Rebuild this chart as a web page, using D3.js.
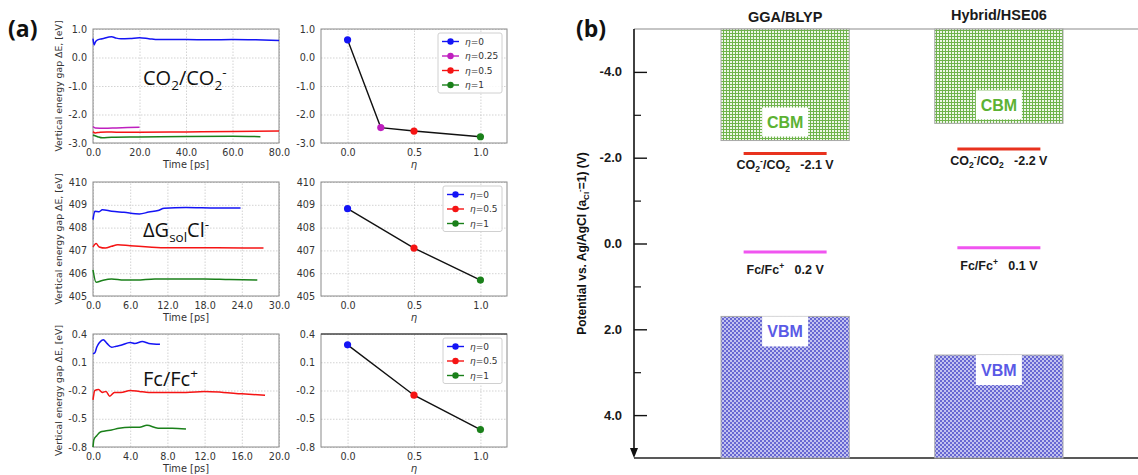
<!DOCTYPE html>
<html><head><meta charset="utf-8">
<script src="https://cdn.jsdelivr.net/npm/d3@7"></script>
<style>body{margin:0;background:#fff}svg{display:block}</style>
</head><body><svg id="fig" width="1138" height="475"></svg>
<script>
// ---------- (a) running averages of the vertical energy gap [time (ps), eV] ----------
const co2Eta0   = [[0,0.66],[0.5,0.44],[1,0.54],[2,0.62],[4,0.66],[8,0.73],[10,0.68],[12,0.66],[16,0.67],[20,0.69],[24,0.66],[28,0.63],[40,0.63],[50,0.62],[60,0.63],[70,0.62],[80,0.60]];
const co2Eta025 = [[0,-2.42],[1,-2.47],[5,-2.48],[10,-2.47],[15,-2.46],[20,-2.45]];
const co2Eta05  = [[0,-2.60],[1,-2.65],[3,-2.62],[6,-2.61],[10,-2.62],[20,-2.62],[40,-2.61],[60,-2.60],[80,-2.58]];
const co2Eta1   = [[0,-2.72],[2,-2.78],[4,-2.82],[8,-2.80],[20,-2.79],[40,-2.77],[60,-2.76],[72,-2.78]];

const gsolEta0  = [[0,408.35],[0.3,408.72],[1,408.70],[1.5,408.78],[3,408.72],[5,408.67],[7.5,408.60],[9,408.68],[10.5,408.75],[11.5,408.85],[15,408.88],[20,408.86],[23.8,408.86]];
const gsolEta05 = [[0,407.15],[0.5,407.30],[1,407.15],[2,407.10],[3,407.18],[4,407.25],[6,407.20],[9,407.15],[12,407.12],[20,407.12],[27.5,407.10]];
const gsolEta1  = [[0,406.15],[0.5,405.60],[1.5,405.68],[3,405.75],[5,405.70],[7,405.70],[10,405.75],[18,405.75],[22,405.72],[26.5,405.70]];

const fcEta0  = [[0,0.19],[0.2,0.20],[0.4,0.26],[0.7,0.31],[1.1,0.34],[1.5,0.30],[2,0.26],[2.5,0.27],[3,0.28],[4,0.31],[4.5,0.30],[5.3,0.32],[6,0.30],[7.2,0.29]];
const fcEta05 = [[0,-0.30],[0.2,-0.20],[0.6,-0.19],[1,-0.22],[1.4,-0.21],[1.8,-0.26],[2.3,-0.22],[3,-0.22],[4,-0.20],[5,-0.21],[6,-0.22],[8,-0.22],[10,-0.22],[12,-0.21],[14,-0.22],[16,-0.235],[18.5,-0.25]];
const fcEta1  = [[0,-0.80],[0.1,-0.72],[0.4,-0.68],[0.8,-0.64],[1.3,-0.63],[2,-0.62],[2.8,-0.60],[4,-0.59],[5,-0.59],[5.8,-0.57],[7,-0.60],[8.5,-0.60],[10,-0.61]];

// converged gaps versus the coupling parameter eta
const co2Etas  = [0, 0.25, 0.5, 1];
const co2Avg   = [0.62, -2.46, -2.58, -2.78];
const gsolEtas = [0, 0.5, 1];
const gsolAvg  = [408.83, 407.1, 405.7];
const fcEtas   = [0, 0.5, 1];
const fcAvg    = [0.285, -0.25, -0.615];

// tick labels
const co2TimeTicks  = [0, 20, 40, 60, 80];
const co2GapTicks   = [1, 0, -1, -2, -3];
const gsolTimeTicks = [0, 6, 12, 18, 24, 30];
const gsolGapTicks  = [405, 406, 407, 408, 409, 410];
const fcTimeTicks   = [0, 4, 8, 12, 16, 20];
const fcGapTicks    = [0.4, 0.1, -0.2, -0.5, -0.8];
const etaTicks      = [0, 0.5, 1];

// ---------- (b) band edges and redox levels vs. Ag/AgCl ----------
const methods    = ["GGA/BLYP", "Hybrid/HSE06"];
const cbmLevels  = [-2.4, -2.8];
const vbmLevels  = [1.7, 2.6];
const co2Redox   = [-2.1, -2.2];
const fcRedox    = [0.2, 0.1];
const potMajorTicks = [-4, -2, 0, 2, 4];
const potMinorTicks = [-3, -1, 1, 3];

const etaColor = {"0": "#1414f5", "0.25": "#bf1fbf", "0.5": "#f51414", "1": "#1a801a"};

const svg = d3.select("#fig");
const W = +svg.attr("width"), H = +svg.attr("height");
const fmt1 = v => d3.format(".1f")(v).replace("\u2212", "-");
const fmtInt = v => d3.format("d")(v).replace("\u2212", "-");
const MPL = "DejaVu Sans";

function drawPanel(p) {
  const x = d3.scaleLinear().domain(p.xDomain).range([p.left, p.right]);
  const y = d3.scaleLinear().domain(p.yDomain).range([p.bottom, p.top]);
  const g = svg.append("g");
  const gx = g.append("g").attr("transform", `translate(0,${p.bottom})`)
    .call(d3.axisBottom(x).tickValues(p.xTicks).tickSize(-(p.bottom - p.top)).tickPadding(6).tickFormat(p.xFmt));
  const gy = g.append("g").attr("transform", `translate(${p.left},0)`)
    .call(d3.axisLeft(y).tickValues(p.yTicks).tickSize(-(p.right - p.left)).tickPadding(6).tickFormat(p.yFmt));
  [gx, gy].forEach(a => {
    a.select(".domain").remove();
    a.selectAll("line").attr("stroke", "#c8c8c8").attr("stroke-width", 0.8).attr("stroke-dasharray", "1.5,1.5");
    a.selectAll("text").attr("font-family", MPL).attr("font-size", 9.6).attr("fill", "#333");
  });
  g.append("rect").attr("x", p.left).attr("y", p.top).attr("width", p.right - p.left).attr("height", p.bottom - p.top)
    .attr("fill", "none").attr("stroke", "#8a8a8a").attr("stroke-width", 1);
  if (p.darkTop) g.append("line").attr("x1", p.left).attr("x2", p.right).attr("y1", p.top).attr("y2", p.top)
    .attr("stroke", "#222").attr("stroke-width", 1.2);
  // axis title sits just under the tick labels, kept inside the page
  g.append("text").attr("x", (p.left + p.right) / 2).attr("y", Math.min(p.bottom + 25, H - 3)).attr("text-anchor", "middle")
    .attr("font-family", MPL).attr("font-size", p.xItalic ? 10 : 9.8).attr("font-style", p.xItalic ? "italic" : "normal")
    .attr("fill", "#333").text(p.xLabel);
  if (p.yLabel) {
    g.append("text").attr("transform", `translate(${p.left - 31},${(p.top + p.bottom) / 2}) rotate(-90)`)
      .attr("text-anchor", "middle").attr("font-family", MPL).attr("font-size", 9.3).attr("fill", "#333").text(p.yLabel);
  }
  return {x, y, g};
}

function drawSeries(panel, series) {
  const line = d3.line().x(d => panel.x(d[0])).y(d => panel.y(d[1])).curve(d3.curveMonotoneX);
  series.forEach(s => panel.g.append("path").datum(s.data).attr("d", line)
    .attr("fill", "none").attr("stroke", etaColor[s.eta]).attr("stroke-width", 1.5));
}

function drawEta(panel, etas, vals) {
  const pts = etas.map((e, i) => [e, vals[i]]);
  panel.g.append("path").datum(pts).attr("d", d3.line().x(d => panel.x(d[0])).y(d => panel.y(d[1])))
    .attr("fill", "none").attr("stroke", "#111").attr("stroke-width", 1.4);
  panel.g.selectAll("circle.pt").data(pts).join("circle").attr("class", "pt")
    .attr("cx", d => panel.x(d[0])).attr("cy", d => panel.y(d[1])).attr("r", 3.6)
    .attr("fill", d => etaColor[String(d[0])]);
  // legend
  const boxW = etas.some(e => String(e).length > 3) ? 64 : 59;
  const bx = panel.x.range()[1] - 5 - boxW;
  const by = panel.y.range()[1] + 4;
  const rowH = 14.5;
  const lg = panel.g.append("g");
  lg.append("rect").attr("x", bx).attr("y", by).attr("width", boxW).attr("height", etas.length * rowH + 2)
    .attr("rx", 2).attr("fill", "#fff").attr("fill-opacity", 0.85).attr("stroke", "#d0d0d0");
  etas.forEach((e, i) => {
    const cy = by + 8.5 + i * rowH;
    lg.append("line").attr("x1", bx + 4).attr("x2", bx + 21).attr("y1", cy).attr("y2", cy)
      .attr("stroke", etaColor[String(e)]).attr("stroke-width", 1.4);
    lg.append("circle").attr("cx", bx + 12.5).attr("cy", cy).attr("r", 3.2).attr("fill", etaColor[String(e)]);
    const t = lg.append("text").attr("x", bx + 27).attr("y", cy + 3.4).attr("font-family", MPL).attr("font-size", 9).attr("fill", "#333");
    t.append("tspan").attr("font-style", "italic").text("\u03b7");
    t.append("tspan").text("=" + e);
  });
}

const leftX = [93, 279], rightX = [321, 507];
const rows = [[29, 143], [182, 296], [334, 447]];
const yLab = "Vertical energy gap \u0394E, [eV]";

// row 1: CO2/CO2-
const p1 = drawPanel({left: leftX[0], right: leftX[1], top: rows[0][0], bottom: rows[0][1], xDomain: [0, 80], yDomain: [-3, 1],
  xTicks: co2TimeTicks, yTicks: co2GapTicks, xFmt: fmt1, yFmt: fmt1, xLabel: "Time [ps]", yLabel: yLab});
drawSeries(p1, [{eta: "0", data: co2Eta0}, {eta: "0.25", data: co2Eta025}, {eta: "0.5", data: co2Eta05}, {eta: "1", data: co2Eta1}]);
const q1 = drawPanel({left: rightX[0], right: rightX[1], top: rows[0][0], bottom: rows[0][1], xDomain: [-0.2, 1.2], yDomain: [-3, 1],
  xTicks: etaTicks, yTicks: co2GapTicks, xFmt: fmt1, yFmt: fmt1, xLabel: "\u03b7", xItalic: true});
drawEta(q1, co2Etas, co2Avg);

// row 2: solvation free energy of Cl-
const p2 = drawPanel({left: leftX[0], right: leftX[1], top: rows[1][0], bottom: rows[1][1], xDomain: [0, 30], yDomain: [405, 410],
  xTicks: gsolTimeTicks, yTicks: gsolGapTicks, xFmt: fmt1, yFmt: fmtInt, xLabel: "Time [ps]", yLabel: yLab});
drawSeries(p2, [{eta: "0", data: gsolEta0}, {eta: "0.5", data: gsolEta05}, {eta: "1", data: gsolEta1}]);
const q2 = drawPanel({left: rightX[0], right: rightX[1], top: rows[1][0], bottom: rows[1][1], xDomain: [-0.2, 1.2], yDomain: [405, 410],
  xTicks: etaTicks, yTicks: gsolGapTicks, xFmt: fmt1, yFmt: fmtInt, xLabel: "\u03b7", xItalic: true});
drawEta(q2, gsolEtas, gsolAvg);

// row 3: Fc/Fc+
const p3 = drawPanel({left: leftX[0], right: leftX[1], top: rows[2][0], bottom: rows[2][1], xDomain: [0, 20], yDomain: [-0.8, 0.4],
  xTicks: fcTimeTicks, yTicks: fcGapTicks, xFmt: fmt1, yFmt: fmt1, xLabel: "Time [ps]", yLabel: yLab});
drawSeries(p3, [{eta: "0", data: fcEta0}, {eta: "0.5", data: fcEta05}, {eta: "1", data: fcEta1}]);
const q3 = drawPanel({left: rightX[0], right: rightX[1], top: rows[2][0], bottom: rows[2][1], xDomain: [-0.2, 1.2], yDomain: [-0.8, 0.4],
  xTicks: etaTicks, yTicks: fcGapTicks, xFmt: fmt1, yFmt: fmt1, xLabel: "\u03b7", xItalic: true, darkTop: true});
drawEta(q3, fcEtas, fcAvg);

// in-plot titles
const TITLE_FONT = "'Open Sans', Lato, sans-serif";
function bigLabel(x, y, parts) {
  const t = svg.append("text").attr("x", x).attr("y", y).attr("font-family", TITLE_FONT)
    .attr("font-size", 20).attr("fill", "#111");
  parts.forEach(([s, dy, fs]) => t.append("tspan").attr("dy", dy).attr("font-size", fs || 20).text(s));
}
bigLabel(143, 85, [["CO", 0], ["2", 5, 13.5], ["/CO", -5], ["2", 5, 13.5], ["-", -13, 13.5]]);
bigLabel(143, 237, [["\u0394G", 0], ["sol", 5, 13.5], ["Cl", -5], ["-", -8, 13.5]]);
bigLabel(143, 386, [["Fc/Fc", 0], ["+", -8, 13.5]]);

svg.append("text").attr("x", 8).attr("y", 37).attr("font-family", TITLE_FONT).attr("font-weight", "bold")
  .attr("font-size", 23).attr("fill", "#111").text("(a)");
svg.append("text").attr("x", 576).attr("y", 37).attr("font-family", TITLE_FONT).attr("font-weight", "bold")
  .attr("font-size", 23).attr("fill", "#111").text("(b)");

// ---------- (b) ----------
const HEL = "'Liberation Sans', Arial, sans-serif";
const axisX = 634;
const yPot = d3.scaleLinear().domain([-5, 5]).range([29, 458]);
const xM = d3.scaleBand().domain(methods).range([721, 1063]).paddingInner(0.4).paddingOuter(0);

const defs = svg.append("defs");
const gp = defs.append("pattern").attr("id", "gridGreen").attr("patternUnits", "userSpaceOnUse").attr("width", 3).attr("height", 3);
gp.append("rect").attr("width", 3).attr("height", 3).attr("fill", "#eef7e8");
gp.append("path").attr("d", "M0,0.5H3M0.5,0V3").attr("stroke", "#6fb34c").attr("stroke-width", 1);
const bp = defs.append("pattern").attr("id", "checkBlue").attr("patternUnits", "userSpaceOnUse").attr("width", 4).attr("height", 4);
bp.append("rect").attr("width", 4).attr("height", 4).attr("fill", "#c2c2f0");
bp.append("rect").attr("width", 2).attr("height", 2).attr("fill", "#6767d2");
bp.append("rect").attr("x", 2).attr("y", 2).attr("width", 2).attr("height", 2).attr("fill", "#6767d2");

const gb = svg.append("g");
// frame lines
gb.append("line").attr("x1", axisX).attr("x2", W).attr("y1", yPot(-5)).attr("y2", yPot(-5)).attr("stroke", "#8c8c8c").attr("stroke-width", 1.2);
gb.append("line").attr("x1", axisX).attr("x2", W).attr("y1", yPot(5)).attr("y2", yPot(5)).attr("stroke", "#222").attr("stroke-width", 1.4);

// conduction band (from top of window down to CBM)
gb.selectAll("rect.cbm").data(methods).join("rect").attr("class", "cbm")
  .attr("x", d => xM(d)).attr("width", xM.bandwidth())
  .attr("y", yPot(-5)).attr("height", (d, i) => yPot(cbmLevels[i]) - yPot(-5))
  .attr("fill", "url(#gridGreen)").attr("stroke", "#a8a8a8").attr("stroke-width", 1);
// valence band (from VBM down to bottom of window)
gb.selectAll("rect.vbm").data(methods).join("rect").attr("class", "vbm")
  .attr("x", d => xM(d)).attr("width", xM.bandwidth())
  .attr("y", (d, i) => yPot(vbmLevels[i])).attr("height", (d, i) => yPot(5) - yPot(vbmLevels[i]))
  .attr("fill", "url(#checkBlue)").attr("stroke", "#a8a8a8").attr("stroke-width", 1);

// band labels and method titles
methods.forEach((m, i) => {
  const cx = xM(m) + xM.bandwidth() / 2;
  const cb = yPot(cbmLevels[i]);
  gb.append("rect").attr("x", cx - 23).attr("y", cb - 33).attr("width", 46).attr("height", 29).attr("fill", "#fff");
  gb.append("text").attr("x", cx).attr("y", cb - 12.5).attr("text-anchor", "middle").attr("font-family", HEL)
    .attr("font-weight", "bold").attr("font-size", 16).attr("fill", "#5cb233").text("CBM");
  const vb = yPot(vbmLevels[i]);
  gb.append("rect").attr("x", cx - 23).attr("y", vb).attr("width", 46).attr("height", 30).attr("fill", "#fff");
  gb.append("text").attr("x", cx).attr("y", vb + 21).attr("text-anchor", "middle").attr("font-family", HEL)
    .attr("font-weight", "bold").attr("font-size", 16).attr("fill", "#5a5ae6").text("VBM");
  gb.append("text").attr("x", cx).attr("y", i === 0 ? 22 : 20).attr("text-anchor", "middle").attr("font-family", HEL)
    .attr("font-weight", "bold").attr("font-size", 14.5).attr("fill", "#1a1a1a").text(m);
});

// redox levels
const redoxHalf = 41.5;
methods.forEach((m, i) => {
  const cx = xM(m) + xM.bandwidth() / 2;
  const yc = yPot(co2Redox[i]);
  gb.append("line").attr("x1", cx - redoxHalf).attr("x2", cx + redoxHalf).attr("y1", yc).attr("y2", yc)
    .attr("stroke", "#e8321e").attr("stroke-width", 3);
  const t1 = gb.append("text").attr("x", cx).attr("y", yc + 16).attr("text-anchor", "middle").attr("font-family", HEL)
    .attr("font-weight", "bold").attr("font-size", 12.5).attr("fill", "#1a1a1a");
  t1.append("tspan").text("CO");
  t1.append("tspan").attr("dy", 3).attr("font-size", 8.5).text("2");
  t1.append("tspan").attr("dy", -8).attr("font-size", 8.5).text("-");
  t1.append("tspan").attr("dy", 5).text("/CO");
  t1.append("tspan").attr("dy", 3).attr("font-size", 8.5).text("2");
  t1.append("tspan").attr("dy", -3).text("\u00a0\u00a0\u00a0" + fmt1(co2Redox[i]) + " V");

  const yf = yPot(fcRedox[i]);
  gb.append("line").attr("x1", cx - redoxHalf).attr("x2", cx + redoxHalf).attr("y1", yf).attr("y2", yf)
    .attr("stroke", "#f055f0").attr("stroke-width", 3);
  const t2 = gb.append("text").attr("x", cx).attr("y", yf + 22).attr("text-anchor", "middle").attr("font-family", HEL)
    .attr("font-weight", "bold").attr("font-size", 12.5).attr("fill", "#1a1a1a");
  t2.append("tspan").text("Fc/Fc");
  t2.append("tspan").attr("dy", -5).attr("font-size", 8.5).text("+");
  t2.append("tspan").attr("dy", 5).text("\u00a0\u00a0\u00a0" + fmt1(fcRedox[i]) + " V");
});

// potential axis (increasing downward, with arrow)
const ga = gb.append("g").attr("transform", `translate(${axisX},0)`);
ga.call(d3.axisRight(yPot).tickValues(potMajorTicks).tickSize(13).tickFormat(""));
ga.select(".domain").remove();
ga.selectAll(".tick line").attr("stroke", "#111").attr("stroke-width", 1.4);
const gm = gb.append("g").attr("transform", `translate(${axisX},0)`);
gm.call(d3.axisRight(yPot).tickValues(potMinorTicks).tickSize(7).tickFormat(""));
gm.select(".domain").remove();
gm.selectAll(".tick line").attr("stroke", "#111").attr("stroke-width", 1.2);
gb.append("line").attr("x1", axisX).attr("x2", axisX).attr("y1", yPot(-5)).attr("y2", yPot(5) - 6)
  .attr("stroke", "#111").attr("stroke-width", 1.6);
gb.append("path").attr("d", `M${axisX - 4},${yPot(5) - 10}L${axisX + 4},${yPot(5) - 10}L${axisX},${yPot(5)}Z`).attr("fill", "#111");
gb.selectAll("text.pot").data(potMajorTicks).join("text").attr("class", "pot")
  .attr("x", axisX - 12).attr("y", d => yPot(d) + 4.5).attr("text-anchor", "end")
  .attr("font-family", HEL).attr("font-weight", "bold").attr("font-size", 13).attr("fill", "#1a1a1a").text(fmt1);

const yl = gb.append("text").attr("transform", `translate(586,${yPot(0)}) rotate(-90)`).attr("text-anchor", "middle")
  .attr("font-family", HEL).attr("font-weight", "bold").attr("font-size", 12).attr("fill", "#111");
yl.append("tspan").text("Potential vs. Ag/AgCl (a");
yl.append("tspan").attr("dy", 3).attr("font-size", 8).text("Cl");
yl.append("tspan").attr("dy", -7).attr("font-size", 8).text("-");
yl.append("tspan").attr("dy", 4).text("=1) (V)");
</script>
</body></html>
